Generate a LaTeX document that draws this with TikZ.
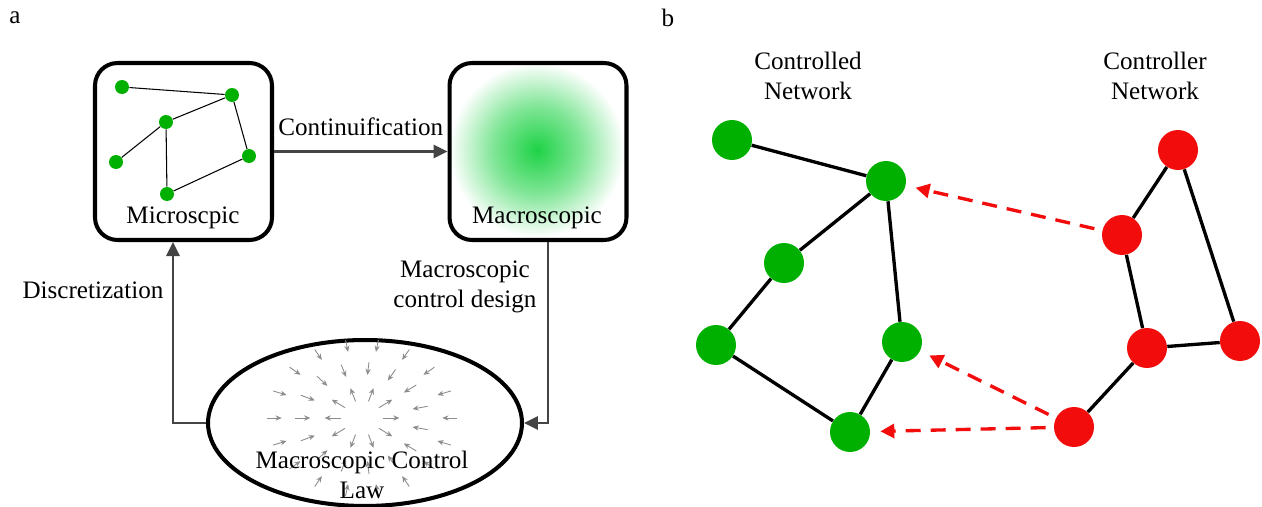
\documentclass[tikz,border=0pt]{standalone}
\usepackage{fontspec}
\setmainfont{Liberation Serif}
\usetikzlibrary{arrows.meta,shapes.geometric}

\definecolor{netgreen}{RGB}{0,176,0}
\definecolor{netred}{RGB}{242,12,12}
\definecolor{macgreen}{RGB}{30,210,70}
\definecolor{flowgray}{RGB}{68,68,68}
\definecolor{fieldgray}{RGB}{140,140,140}

\pgfdeclareradialshading{macroglow}{\pgfpoint{0cm}{0cm}}{color(0cm)=(macgreen); color(0.9cm)=(macgreen!55!white); color(1.75cm)=(white); color(1.9cm)=(white)}

\begin{document}
\begin{tikzpicture}[
    x=0.02cm, y=-0.02cm,
    every node/.style={font=\fontsize{14.3}{17.5}\selectfont},
    panel/.style={draw, line width=2.3pt, rounded corners=0.45cm, minimum width=3.54cm, minimum height=3.54cm},
    micronode/.style={circle, fill=netgreen, inner sep=0pt, minimum size=0.28cm},
    flow/.style={draw=flowgray, line width=1.5pt, -{Triangle[length=0.28cm, width=0.26cm]}},
    field/.style={draw=fieldgray, line width=0.5pt, -{Stealth[length=3.5pt, width=3pt]}},
    greennode/.style={circle, fill=netgreen, inner sep=0pt, minimum size=0.8cm},
    rednode/.style={circle, fill=netred, inner sep=0pt, minimum size=0.8cm},
    link/.style={line width=1.9pt},
    ctrl/.style={draw=netred, line width=1.9pt, dash pattern=on 0.3cm off 0.2cm, -{Triangle[length=0.28cm, width=0.28cm]}, shorten <=0.16cm, shorten >=0.2cm}
]
    \useasboundingbox (0,0) rectangle (1262,507);

    % panel labels
    \node (pa) at (15,18) {a};
    \node (pb) at (668,18) {b};

    % microscopic box
    \node[panel] (micro) at (183.5,151.5) {};
    \node (microtext) at (183,218) {Microscpic};

    \node[micronode] (m1) at (122,87) {};
    \node[micronode] (m2) at (232,95) {};
    \node[micronode] (m3) at (166,122) {};
    \node[micronode] (m4) at (116,162) {};
    \node[micronode] (m5) at (249,156) {};
    \node[micronode] (m6) at (167,194) {};

    \draw[line width=0.6pt] (m1) -- (m2);
    \draw[line width=0.6pt] (m2) -- (m3);
    \draw[line width=0.6pt] (m3) -- (m4);
    \draw[line width=0.6pt] (m3) -- (m6);
    \draw[line width=0.6pt] (m6) -- (m5);
    \draw[line width=0.6pt] (m5) -- (m2);

    % macroscopic box
    \begin{scope}
        \clip[rounded corners=0.45cm] (449,63) rectangle (627,240);
        \node[inner sep=0pt] (glow) at (537,150) {\pgfuseshading{macroglow}};
    \end{scope}
    \node[panel] (macro) at (538,151.5) {};
    \node (macrotext) at (537,218) {Macroscopic};

    % control law
    \node[ellipse, draw, line width=2.3pt, minimum width=6.28cm, minimum height=3.32cm, inner sep=0pt] (law) at (365,423) {};

    \foreach \a in {0,36,...,324}
        \draw[field] ({362+1.1*19*cos(\a)},{418+0.92*19*sin(\a)}) -- ({362+1.1*34*cos(\a)},{418+0.92*34*sin(\a)});
    \foreach \a in {12,36,...,348}
        \draw[field] ({362+1.1*61*cos(\a)},{418+0.92*61*sin(\a)}) -- ({362+1.1*47*cos(\a)},{418+0.92*47*sin(\a)});
    \foreach \a in {0,20,...,340}
        \draw[field] ({362+1.1*86*cos(\a)},{418+0.92*86*sin(\a)}) -- ({362+1.1*73*cos(\a)},{418+0.92*73*sin(\a)});

    \node[align=center] (lawtext) at (362,475) {Macroscopic Control\\Law};

    % connectors of panel a
    \draw[flow] (micro.east) -- (macro.west) node[midway, yshift=0.5cm] {Continuification};
    \draw[flow] ([xshift=0.2cm]macro.south) |- (law.east);
    \node[align=center] (design) at (465,287) {Macroscopic\\control design};
    \draw[flow] (law.west) -| ([xshift=-0.21cm]micro.south);
    \node (discr) at (93,290) {Discretization};

    % controlled network
    \node[align=center] (ctdtext) at (808,76) {Controlled\\Network};

    \node[greennode] (g1) at (732,140) {};
    \node[greennode] (g2) at (886,181) {};
    \node[greennode] (g3) at (784,263) {};
    \node[greennode] (g4) at (716,345) {};
    \node[greennode] (g5) at (902,342) {};
    \node[greennode] (g6) at (850,432) {};

    \draw[link] (g1) -- (g2);
    \draw[link] (g2) -- (g3);
    \draw[link] (g3) -- (g4);
    \draw[link] (g4) -- (g6);
    \draw[link] (g6) -- (g5);
    \draw[link] (g5) -- (g2);

    % controller network
    \node[align=center] (ctrtext) at (1155,76) {Controller\\Network};

    \node[rednode] (r1) at (1178,150) {};
    \node[rednode] (r2) at (1122,235) {};
    \node[rednode] (r3) at (1147,348) {};
    \node[rednode] (r4) at (1240,341) {};
    \node[rednode] (r5) at (1074,427) {};

    \draw[link] (r1) -- (r2);
    \draw[link] (r2) -- (r3);
    \draw[link] (r3) -- (r4);
    \draw[link] (r4) -- (r1);
    \draw[link] (r3) -- (r5);

    \draw[ctrl] (r2) -- (g2);
    \draw[ctrl] (r5) -- (g5);
    \draw[ctrl] (r5) -- (g6);

\end{tikzpicture}
\end{document}
